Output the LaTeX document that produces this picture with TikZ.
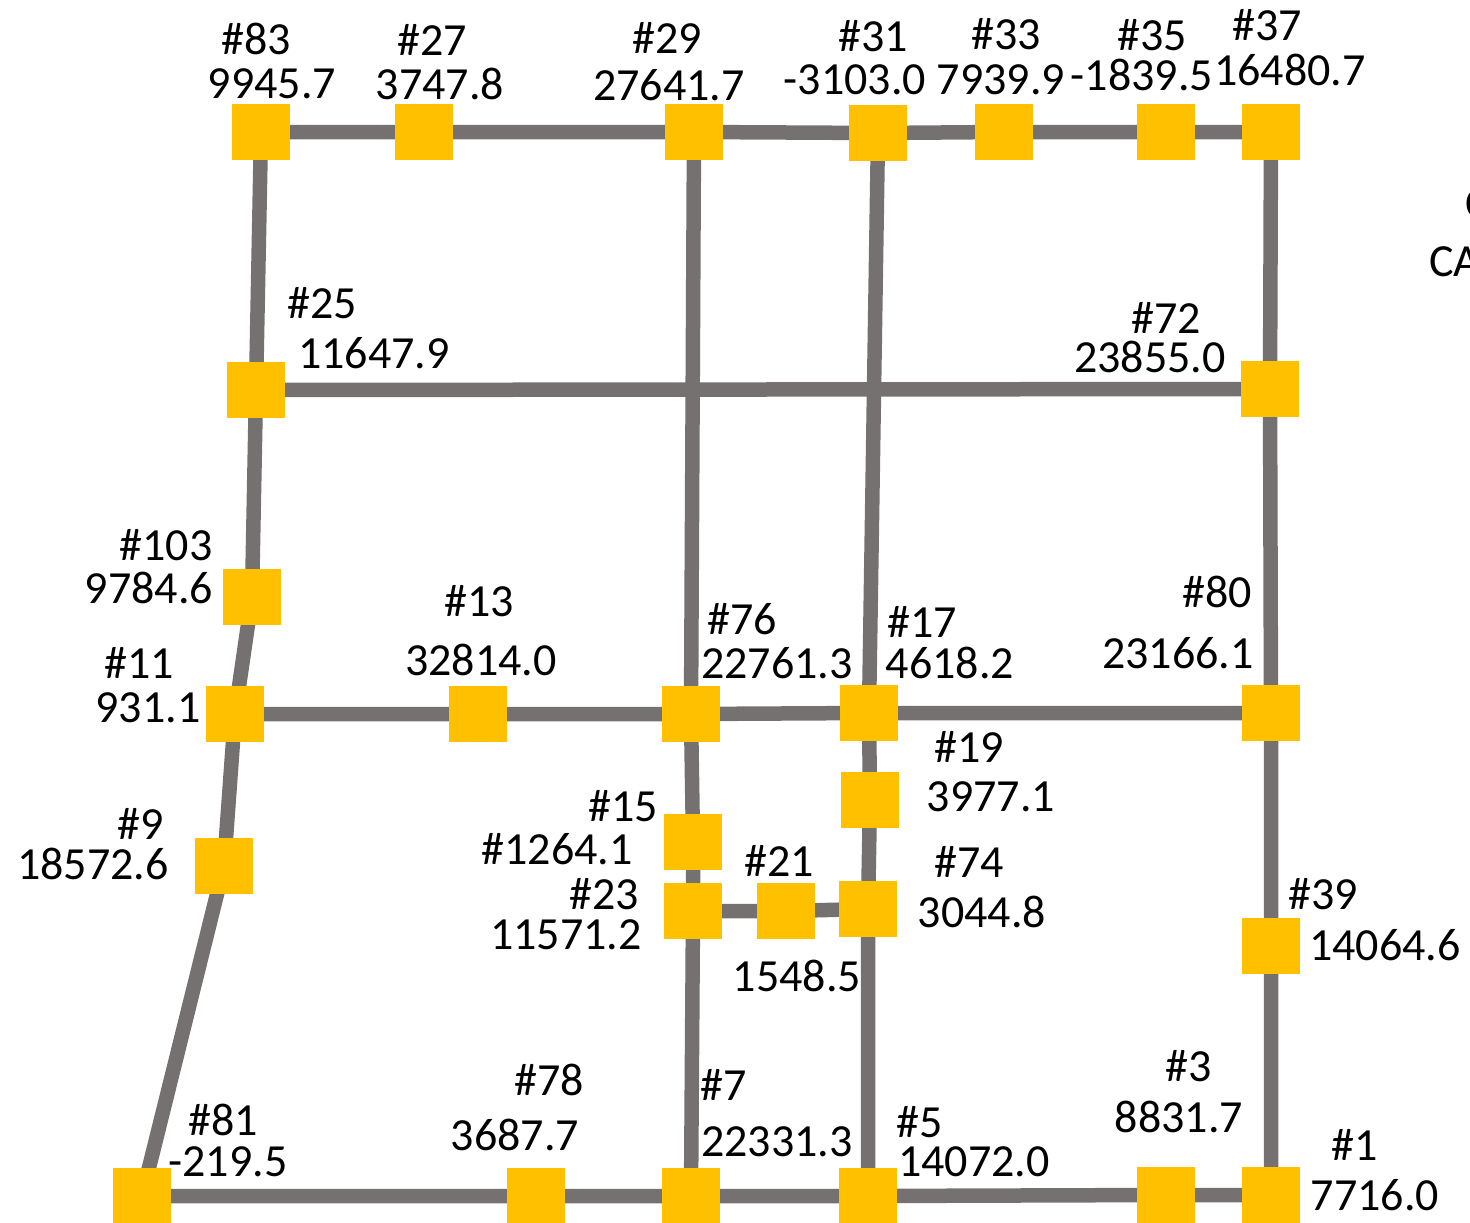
\documentclass[tikz,border=0pt]{standalone}
\usepackage{fontspec}
\setmainfont{Carlito}
\usetikzlibrary{backgrounds}
\definecolor{nodeyellow}{HTML}{FFC000}
\definecolor{edgegray}{HTML}{767171}
\begin{document}
\begin{tikzpicture}[x=1pt,y=-1pt,
  sq/.style={fill=nodeyellow, minimum width=58pt, minimum height=56pt, inner sep=0pt, outer sep=0pt},
  lbl/.style={inner sep=0pt, font=\fontsize{46}{55}\selectfont},
  edge/.style={draw=edgegray, line width=14.5pt}]
\useasboundingbox (0,0) rectangle (1470,1223);
% squares
\node[sq] (n83) at (261,132) {};
\node[sq] (n27) at (424,132) {};
\node[sq] (n29) at (694,132) {};
\node[sq] (n31) at (878,133) {};
\node[sq] (n33) at (1004,132) {};
\node[sq] (n35) at (1166,132) {};
\node[sq] (n37) at (1271,132) {};
\node[sq] (n25) at (256,390) {};
\node[sq] (n72) at (1270,389) {};
\node[sq] (n103) at (252,597) {};
\node[sq] (n11) at (235,714) {};
\node[sq] (n13) at (478,714) {};
\node[sq] (n76) at (691,714) {};
\node[sq] (n17) at (869,713) {};
\node[sq] (n80) at (1271,713) {};
\node[sq] (n19) at (870,800) {};
\node[sq] (n15) at (693,842) {};
\node[sq] (n9) at (224,866) {};
\node[sq] (n23) at (693,911) {};
\node[sq] (n21) at (786,911) {};
\node[sq] (n74) at (868,909) {};
\node[sq] (n39) at (1271,946) {};
\node[sq] (n81) at (142,1196) {};
\node[sq] (n78) at (536,1196) {};
\node[sq] (n7) at (691,1196) {};
\node[sq] (n5) at (868,1196) {};
\node[sq] (n3) at (1166,1195) {};
\node[sq] (n1) at (1271,1195) {};
% edges
\begin{scope}[on background layer]
\fill[white] (0,0) rectangle (1470,1223);
\draw[edge] (n83.center) -- (n27.center) -- (n29.center) -- (n31.center) -- (n33.center) -- (n35.center) -- (n37.center);
\draw[edge] (n83.center) -- (n25.center) -- (n103.center) -- (n11.center) -- (n9.center) -- (n81.center);
\draw[edge] (n25.center) -- (n72.center);
\draw[edge] (n37.center) -- (n72.center) -- (n80.center) -- (n39.center) -- (n1.center);
\draw[edge] (n29.center) -- (n76.center);
\draw[edge] (n31.center) -- (n17.center);
\draw[edge] (n11.center) -- (n13.center) -- (n76.center) -- (n17.center) -- (n80.center);
\draw[edge] (n76.center) -- (n15.center) -- (n23.center) -- (n7.center);
\draw[edge] (n23.center) -- (n21.center) -- (n74.center);
\draw[edge] (n17.center) -- (n19.center) -- (n74.center) -- (n5.center);
\draw[edge] (n81.center) -- (n78.center) -- (n7.center) -- (n5.center) -- (n3.center) -- (n1.center);
\end{scope}
% labels
\node[lbl] (t83a) at (256,39) {\#83};
\node[lbl] (t83b) at (272,84) {9945.7};
\node[lbl] (t27a) at (432,40) {\#27};
\node[lbl] (t27b) at (440,84) {3747.8};
\node[lbl] (t29a) at (667,38) {\#29};
\node[lbl] (t29b) at (669,85) {27641.7};
\node[lbl] (t31a) at (873,36) {\#31};
\node[lbl] (t31b) at (855,80) {-3103.0};
\node[lbl] (t33a) at (1006,34) {\#33};
\node[lbl] (t33b) at (1001,80) {7939.9};
\node[lbl] (t35a) at (1152,35) {\#35};
\node[lbl] (t35b) at (1142,75) {-1839.5};
\node[lbl] (t37a) at (1267,25) {\#37};
\node[lbl] (t37b) at (1290,70) {16480.7};
\node[lbl] (t25a) at (322,303) {\#25};
\node[lbl] (t25b) at (374,353) {11647.9};
\node[lbl] (t72a) at (1166,318) {\#72};
\node[lbl] (t72b) at (1150,357) {23855.0};
\node[lbl] (t103a) at (166,545) {\#103};
\node[lbl] (t103b) at (149,588) {9784.6};
\node[lbl] (t11a) at (139,663) {\#11};
\node[lbl] (t11b) at (148,708) {931.1};
\node[lbl] (t13a) at (479,601) {\#13};
\node[lbl] (t13b) at (481,660) {32814.0};
\node[lbl] (t76a) at (742,619) {\#76};
\node[lbl] (t76b) at (777,663) {22761.3};
\node[lbl] (t17a) at (922,622) {\#17};
\node[lbl] (t17b) at (950,663) {4618.2};
\node[lbl] (t80a) at (1217,592) {\#80};
\node[lbl] (t80b) at (1178,653) {23166.1};
\node[lbl] (t19a) at (969,747) {\#19};
\node[lbl] (t19b) at (991,797) {3977.1};
\node[lbl] (t15a) at (623,806) {\#15};
\node[lbl] (t15b) at (557,849) {\#1264.1};
\node[lbl] (t9a) at (141,824) {\#9};
\node[lbl] (t9b) at (93,864) {18572.6};
\node[lbl] (t23a) at (604,894) {\#23};
\node[lbl] (t23b) at (566,935) {11571.2};
\node[lbl] (t21a) at (779,861) {\#21};
\node[lbl] (t21b) at (797,976) {1548.5};
\node[lbl] (t74a) at (969,862) {\#74};
\node[lbl] (t74b) at (982,912) {3044.8};
\node[lbl] (t39a) at (1323,894) {\#39};
\node[lbl] (t39b) at (1385,945) {14064.6};
\node[lbl] (t81a) at (223,1120) {\#81};
\node[lbl] (t81b) at (228,1162) {-219.5};
\node[lbl] (t78a) at (549,1080) {\#78};
\node[lbl] (t78b) at (515,1135) {3687.7};
\node[lbl] (t7a) at (724,1085) {\#7};
\node[lbl] (t7b) at (777,1142) {22331.3};
\node[lbl] (t5a) at (920,1122) {\#5};
\node[lbl] (t5b) at (974,1162) {14072.0};
\node[lbl] (t3a) at (1189,1066) {\#3};
\node[lbl] (t3b) at (1179,1117) {8831.7};
\node[lbl] (t1a) at (1355,1145) {\#1};
\node[lbl] (t1b) at (1375,1195) {7716.0};
% cut-off text at right edge
\node[lbl, anchor=base west] (tca) at (1429,276) {CA};
\node[lbl, anchor=base west] (tc) at (1465,218) {C};
\end{tikzpicture}
\end{document}
